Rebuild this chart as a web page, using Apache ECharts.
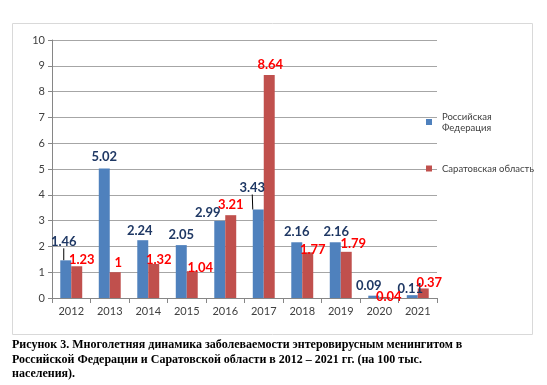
<!DOCTYPE html>
<html><head><meta charset="utf-8">
<script src="https://cdn.jsdelivr.net/npm/echarts@6/dist/echarts.min.js"></script>
<style>html,body{margin:0;padding:0;background:#fff}#c{width:547px;height:385px}</style>
</head><body><div id="c"></div>
<script>
const categories = ['2012','2013','2014','2015','2016','2017','2018','2019','2020','2021'];
const rfValues = [1.46, 5.02, 2.24, 2.05, 2.99, 3.43, 2.16, 2.16, 0.09, 0.11];
const sarValues = [1.23, 1, 1.32, 1.04, 3.21, 8.64, 1.77, 1.79, 0.04, 0.37];
const rfLabels = ['1.46','5.02','2.24','2.05','2.99','3.43','2.16','2.16','0.09','0.11'];
const sarLabels = ['1.23','1','1.32','1.04','3.21','8.64','1.77','1.79','0.04','0.37'];
const yTicks = [0,1,2,3,4,5,6,7,8,9,10];
const seriesNames = ['Российская\nФедерация', 'Саратовская область'];
const caption = 'Рисунок 3. Многолетняя динамика заболеваемости энтеровирусным менингитом в\nРоссийской Федерации и Саратовской области в 2012 – 2021 гг. (на 100 тыс.\nнаселения).';

// label nudges (styling only)
const rfShift = [[-2,-7],[0,0],[-3,2],[0,1],[-12,3],[-6,-10],[0,1],[1,1],[-5,2],[-2,5]];
const sarShift = [[5,5],[3,2],[5,7],[8,8],[0,1],[1,1],[5,9],[7,3],[4,11],[6,6]];
const leaderRF = [0,5];

const chart = echarts.init(document.getElementById('c'), null, {renderer:'canvas'});
const lblFont = {fontFamily:'Lato', fontWeight:'bold', fontSize:13};
chart.setOption({
  animation:false,
  title:{text:caption, left:12, top:338, padding:0, textStyle:{fontFamily:'Liberation Serif', fontWeight:'bold', fontSize:12, lineHeight:14.5, color:'#000'}},
  graphic:[{type:'rect', shape:{x:12.5,y:23.5,width:520,height:311}, style:{fill:'none', stroke:'#d9d9d9', lineWidth:1}, silent:true}],
  legend:{orient:'vertical', left:426, top:111, padding:0, itemWidth:6, itemHeight:6, itemGap:30, icon:'rect',
    textStyle:{fontFamily:'Lato', fontSize:9.5, color:'#404040', lineHeight:11, padding:[0,0,0,5]},
    data:seriesNames},
  grid:{left:52, right:110, top:40, bottom:87},
  xAxis:{type:'category', data:categories,
    axisLine:{lineStyle:{color:'#868686'}}, axisTick:{show:true, length:5, lineStyle:{color:'#868686'}},
    axisLabel:{fontFamily:'Lato', fontSize:11, color:'#404040', margin:8}},
  yAxis:{type:'value', min:yTicks[0], max:yTicks[yTicks.length-1], interval:1,
    axisLine:{show:true, lineStyle:{color:'#868686'}}, axisTick:{show:true, length:4, lineStyle:{color:'#868686'}},
    splitLine:{lineStyle:{color:'#a6a6a6', width:1}},
    axisLabel:{fontFamily:'Lato', fontSize:11, color:'#404040', margin:7}},
  series:[
    {name:seriesNames[0], type:'bar', barGap:'0%', barCategoryGap:'43%',
     itemStyle:{color:'#4F81BD'},
     data:rfValues.map((v,i)=>({value:v, labelLine: leaderRF.includes(i)?{show:true, lineStyle:{color:'#000', width:1}}:{show:false}})),
     label:{show:true, position:'top', distance:5, color:'#1F3864', ...lblFont, formatter:p=>rfLabels[p.dataIndex]},
     labelLayout:p=>({dx:rfShift[p.dataIndex][0], dy:rfShift[p.dataIndex][1]})},
    {name:seriesNames[1], type:'bar',
     itemStyle:{color:'#C0504D'},
     data:sarValues,
     label:{show:true, position:'top', distance:5, color:'#FF0000', ...lblFont, formatter:p=>sarLabels[p.dataIndex]},
     labelLayout:p=>({dx:sarShift[p.dataIndex][0], dy:sarShift[p.dataIndex][1]})}
  ]
});
</script></body></html>
